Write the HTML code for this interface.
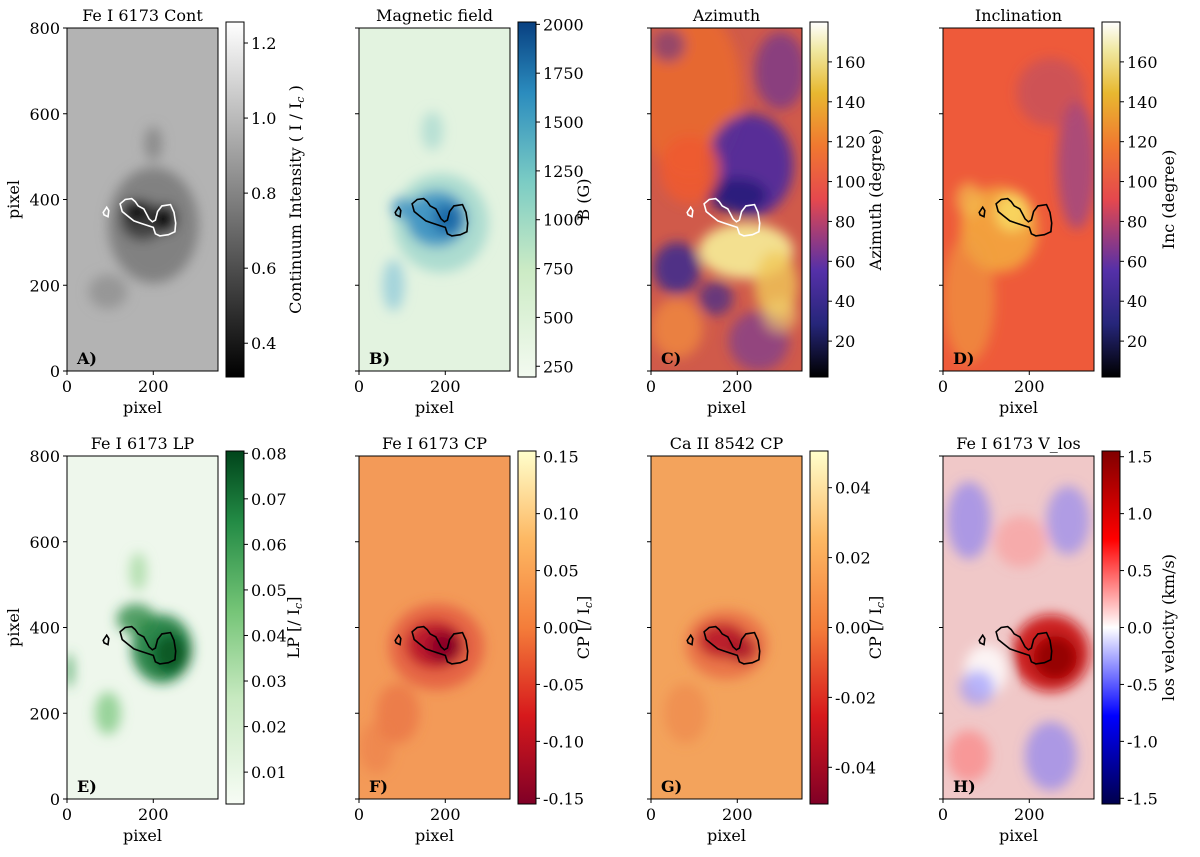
<!DOCTYPE html>
<html><head><meta charset="utf-8">
<style>
body{margin:0;background:#fff;}
svg text{font-family:"DejaVu Serif","Liberation Serif",serif;fill:#000;}
</style></head>
<body>
<svg id="fig" width="1200" height="852" viewBox="0 0 1200 852" xmlns="http://www.w3.org/2000/svg">
<defs>
<filter id="blur" x="-50%" y="-50%" width="200%" height="200%"><feGaussianBlur stdDeviation="6"/></filter>
<linearGradient id="cmGray" x1="0" y1="1" x2="0" y2="0"><stop offset="0" stop-color="#000"/><stop offset="1" stop-color="#fff"/></linearGradient>
<linearGradient id="cmGnBu" x1="0" y1="1" x2="0" y2="0"><stop offset="0" stop-color="#f3faf0"/><stop offset="0.3" stop-color="#ccebc5"/><stop offset="0.55" stop-color="#7bccc4"/><stop offset="0.8" stop-color="#2b8cbe"/><stop offset="1" stop-color="#084081"/></linearGradient>
<linearGradient id="cmCMR" x1="0" y1="1" x2="0" y2="0"><stop offset="0" stop-color="#000"/><stop offset="0.15" stop-color="#26267a"/><stop offset="0.3" stop-color="#5530a8"/><stop offset="0.5" stop-color="#e5484e"/><stop offset="0.65" stop-color="#f07830"/><stop offset="0.8" stop-color="#e8b830"/><stop offset="0.92" stop-color="#f0e8a0"/><stop offset="1" stop-color="#fff"/></linearGradient>
<linearGradient id="cmGreens" x1="0" y1="1" x2="0" y2="0"><stop offset="0" stop-color="#f7fcf5"/><stop offset="0.3" stop-color="#c7e9c0"/><stop offset="0.55" stop-color="#74c476"/><stop offset="0.8" stop-color="#238b45"/><stop offset="1" stop-color="#00441b"/></linearGradient>
<linearGradient id="cmYlOrRd" x1="0" y1="1" x2="0" y2="0"><stop offset="0" stop-color="#800026"/><stop offset="0.25" stop-color="#d7191c"/><stop offset="0.5" stop-color="#f47d3a"/><stop offset="0.75" stop-color="#fdb863"/><stop offset="1" stop-color="#ffffcc"/></linearGradient>
<linearGradient id="cmSeis" x1="0" y1="1" x2="0" y2="0"><stop offset="0" stop-color="#00004c"/><stop offset="0.25" stop-color="#0000ff"/><stop offset="0.5" stop-color="#ffffff"/><stop offset="0.75" stop-color="#ff0000"/><stop offset="1" stop-color="#800000"/></linearGradient>
</defs>
<g id="root"></g>
</svg>
<script>
// tick values
const xTicks = [0, 200];
const yTicks = [0, 200, 400, 600, 800];
const cbTicksA = [0.4, 0.6, 0.8, 1.0, 1.2];
const cbTicksB = [250, 500, 750, 1000, 1250, 1500, 1750, 2000];
const cbTicksC = [20, 40, 60, 80, 100, 120, 140, 160];
const cbTicksD = [20, 40, 60, 80, 100, 120, 140, 160];
const cbTicksE = [0.01, 0.02, 0.03, 0.04, 0.05, 0.06, 0.07, 0.08];
const cbTicksF = [-0.15, -0.10, -0.05, 0.00, 0.05, 0.10, 0.15];
const cbTicksG = [-0.04, -0.02, 0.00, 0.02, 0.04];
const cbTicksH = [-1.5, -1.0, -0.5, 0.0, 0.5, 1.0, 1.5];
// umbra contour (data coords)
const contourMainX = [123,135,150,158,165,178,185,190,198,205,210,220,240,248,252,250,235,215,205,200,185,170,155,140,128];
const contourMainY = [390,400,402,395,385,378,365,355,348,352,372,385,388,370,345,325,318,315,320,335,340,345,350,362,372];
const contourSmallX = [84,92,97,95,86];
const contourSmallY = [370,382,374,360,364];

const NS = "http://www.w3.org/2000/svg";
const root = document.getElementById('root');
function mk(tag, attrs, parent){const e=document.createElementNS(NS,tag);for(const k in attrs)e.setAttribute(k,attrs[k]);(parent||root).appendChild(e);return e;}
function txt(s,attrs,parent){const t=mk('text',attrs,parent);t.textContent=s;return t;}

const panels = [
 {id:'a',x0:67,top:28,bot:371,cbTop:22,cbBot:377,lx:301,title:'Fe I 6173 Cont',letter:'A)',cm:'cmGray',ticks:cbTicksA,dom:[0.31,1.256],fmt:v=>v.toFixed(1),label:'Continuum Intensity ( I / I',sub:'c',lab2:' )',ylab:true,bg:'#b3b3b3',
  blobs:[[200,340,105,135,'#747474',0.8],[175,350,50,45,'#3a3a3a',0.9],[160,375,32,22,'#000',1],[228,355,25,32,'#000',1],[95,185,45,40,'#8a8a8a',0.7],[200,530,20,40,'#7a7a7a',0.7]],contour:'#fff'},
 {id:'b',x0:359,top:28,bot:371,cbTop:22,cbBot:377,lx:589,title:'Magnetic field',letter:'B)',cm:'cmGnBu',ticks:cbTicksB,dom:[195,2012],fmt:v=>String(v),label:'B (G)',bg:'#e3f3e0',
  blobs:[[190,345,110,115,'#9fd6cc',0.8],[180,355,70,65,'#3a8fc2',0.9],[205,355,35,35,'#1a6aa8',1],[100,380,25,25,'#3a8fc2',0.8],[80,200,25,60,'#88c6d8',0.7],[170,560,25,45,'#99d2cc',0.6]],contour:'#000'},
 {id:'c',x0:651,top:28,bot:371,cbTop:22,cbBot:377,lx:881,title:'Azimuth',letter:'C)',cm:'cmCMR',ticks:cbTicksC,dom:[2,180],fmt:v=>String(v),label:'Azimuth (degree)',bg:'#d05a4a',
  blobs:[[90,650,120,200,'#ec6a2c',0.8],[230,480,100,120,'#4a28a0',0.9],[300,700,60,90,'#5a2ea0',0.6],[200,410,70,40,'#2a1a7a',0.9],[90,470,70,80,'#f05a30',0.85],[220,280,110,65,'#f3e090',1],[290,200,50,80,'#f0c858',0.8],[60,240,55,60,'#3a2890',0.85],[150,170,40,40,'#3a2890',0.7],[60,100,60,70,'#f08a40',0.8],[250,70,70,70,'#6a38a0',0.6],[300,130,40,40,'#f0d070',0.6],[40,760,40,40,'#4a28a0',0.5]],contour:'#fff'},
 {id:'d',x0:943,top:28,bot:371,cbTop:22,cbBot:377,lx:1174,title:'Inclination',letter:'D)',cm:'cmCMR',ticks:cbTicksD,dom:[2,180],fmt:v=>String(v),label:'Inc (degree)',bg:'#ee5a3a',
  blobs:[[130,330,90,100,'#f4b040',0.8],[160,370,40,45,'#f8d860',0.9],[60,170,60,150,'#f0a040',0.6],[310,480,45,150,'#8040a0',0.6],[250,650,80,80,'#b04a70',0.5],[60,400,30,40,'#f4c050',0.7]],contour:'#000'},
 {id:'e',x0:67,top:456,bot:799,cbTop:451,cbBot:804,lx:299,title:'Fe I 6173 LP',letter:'E)',cm:'cmGreens',ticks:cbTicksE,dom:[0.003,0.0805],fmt:v=>v.toFixed(2),label:'LP [/ I',sub:'c',lab2:']',ylab:true,bg:'#eef7ec',
  blobs:[[220,350,70,80,'#1a7a3a',0.9],[160,420,45,35,'#2a8a45',0.8],[240,340,40,45,'#0a5a28',1],[95,200,30,50,'#74c476',0.7],[5,300,10,40,'#41a05a',0.8],[165,530,20,45,'#8fd08a',0.6]],contour:'#000'},
 {id:'f',x0:359,top:456,bot:799,cbTop:451,cbBot:804,lx:589,title:'Fe I 6173 CP',letter:'F)',cm:'cmYlOrRd',ticks:cbTicksF,dom:[-0.155,0.155],fmt:v=>v.toFixed(2),label:'CP [/ I',sub:'c',lab2:']',bg:'#f39a58',
  blobs:[[180,355,110,100,'#e0503a',0.7],[175,360,65,55,'#b8102a',0.9],[200,355,40,35,'#8a0026',1],[90,200,50,70,'#e86a40',0.6],[40,120,40,60,'#ec7848',0.5]],contour:'#000'},
 {id:'g',x0:651,top:456,bot:799,cbTop:451,cbBot:804,lx:881,title:'Ca II 8542 CP',letter:'G)',cm:'cmYlOrRd',ticks:cbTicksG,dom:[-0.0505,0.0505],fmt:v=>v.toFixed(2),label:'CP [/ I',sub:'c',lab2:']',bg:'#f3a35c',
  blobs:[[175,360,95,80,'#e56040',0.7],[165,370,55,40,'#b81a2a',0.9],[210,350,35,30,'#a81028',0.8],[80,200,50,70,'#ee8048',0.5]],contour:'#000'},
 {id:'h',x0:943,top:456,bot:799,cbTop:451,cbBot:804,lx:1174,title:'Fe I 6173 V_los',letter:'H)',cm:'cmSeis',ticks:cbTicksH,dom:[-1.55,1.55],fmt:v=>v.toFixed(1),label:'los velocity (km/s)',bg:'#f0c8c8',
  blobs:[[250,340,90,90,'#c81010',0.9],[260,330,50,50,'#900000',0.9],[100,300,50,60,'#ffffff',0.8],[80,260,40,40,'#8a8aff',0.6],[60,650,50,90,'#6a6aff',0.5],[290,650,50,80,'#7070ff',0.5],[250,100,60,80,'#6a6aff',0.5],[60,100,50,60,'#ff6a6a',0.5],[180,600,60,60,'#ff8080',0.4]],contour:'#000'}
];

function cbY(p,v){return p.cbBot-(v-p.dom[0])/(p.dom[1]-p.dom[0])*(p.cbBot-p.cbTop);}

panels.forEach(p=>{
  const W=151, H=p.bot-p.top;
  const xs=v=>p.x0+v*W/350, ys=v=>p.bot-v*H/800;
  const g=mk('g',{});
  
  
  const cp=mk('clipPath',{id:'clip'+p.id},g);
  mk('rect',{x:p.x0,y:p.top,width:W,height:H},cp);
  const img=mk('g',{'clip-path':'url(#clip'+p.id+')'},g);
  
  
  mk('rect',{x:p.x0,y:p.top,width:W,height:H,fill:p.bg},img);
  const bl=mk('g',{filter:'url(#blur)'},img);
  p.blobs.forEach(b=>{
    const e=mk('ellipse',{cx:xs(b[0]),cy:ys(b[1]),rx:b[2]*W/350,ry:b[3]*H/800,fill:b[4],'fill-opacity':b[5]},bl);
    
    
  });
  [[contourMainX,contourMainY],[contourSmallX,contourSmallY]].forEach(c=>{
    const d=c[0].map((v,i)=>(i?'L':'M')+xs(v).toFixed(1)+','+ys(c[1][i]).toFixed(1)).join('')+'Z';
    const pa=mk('path',{d:d,fill:'none',stroke:p.contour,'stroke-width':1.6},img);
    
    
  });
  mk('rect',{x:p.x0,y:p.top,width:W,height:H,fill:'none',stroke:'#000','stroke-width':1},g);
  const lt=txt(p.letter,{x:p.x0+10,y:p.bot-7,'font-size':16,'font-weight':'bold'},g);
  
  
  const tt=txt(p.title,{x:p.x0+W/2,y:p.top-7,'font-size':16,'text-anchor':'middle'},g);
  
  
  xTicks.forEach(v=>{
    mk('line',{x1:xs(v),x2:xs(v),y1:p.bot,y2:p.bot+4,stroke:'#000'},g);
    const t=txt(String(v),{x:xs(v),y:p.bot+21,'font-size':16,'text-anchor':'middle'},g);
    
    
  });
  const xl=txt('pixel',{x:p.x0+W/2,y:p.bot+42,'font-size':16,'text-anchor':'middle'},g);
  
  
  yTicks.forEach(v=>{
    mk('line',{x1:p.x0-4,x2:p.x0,y1:ys(v),y2:ys(v),stroke:'#000'},g);
    if(p.ylab){
      const t=txt(String(v),{x:p.x0-7,y:ys(v)+6,'font-size':16,'text-anchor':'end'},g);
      
      
    }
  });
  if(p.ylab){
    const yc=(p.top+p.bot)/2;
    const yl=txt('pixel',{x:19,y:yc,'font-size':16,'text-anchor':'middle',transform:'rotate(-90 19 '+yc+')'},g);
    
    
  }
  const cx=p.x0+159, cw=18;
  const cb=mk('rect',{x:cx,y:p.cbTop,width:cw,height:p.cbBot-p.cbTop,fill:'url(#'+p.cm+')',stroke:'#000','stroke-width':1},g);
  
  
  p.ticks.forEach(v=>{
    const y=cbY(p,v);
    mk('line',{x1:cx+cw,x2:cx+cw+4,y1:y,y2:y,stroke:'#000'},g);
    const t=txt(p.fmt(v),{x:cx+cw+7,y:y+6,'font-size':16},g);
    
    
  });
  const lx=p.lx, ly=(p.cbTop+p.cbBot)/2;
  const lab=txt('',{x:lx,y:ly,'font-size':16,'text-anchor':'middle',transform:'rotate(-90 '+lx+' '+ly+')'},g);
  
  
  lab.appendChild(document.createTextNode(p.label));
  if(p.sub){
    const s=document.createElementNS(NS,'tspan');
    s.setAttribute('font-size','11');s.setAttribute('dy','3');s.setAttribute('font-style','italic');
    s.textContent=p.sub;lab.appendChild(s);
    const s2=document.createElementNS(NS,'tspan');s2.setAttribute('dy','-3');s2.textContent=p.lab2;lab.appendChild(s2);
  }
});
</script>
</body></html>
